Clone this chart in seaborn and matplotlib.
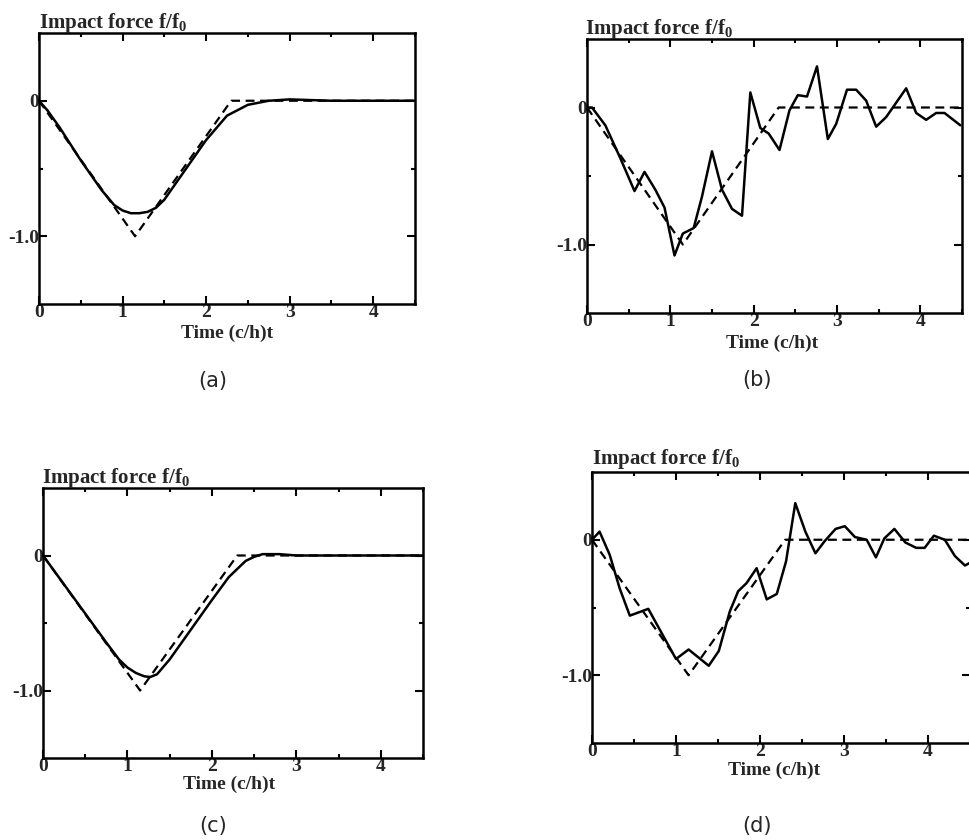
import matplotlib
matplotlib.use("Agg")
import matplotlib.pyplot as plt
from matplotlib.ticker import MultipleLocator, FixedLocator
import seaborn as sns

# --- data ---
# dashed reference pulse (triangle), same in every panel
tri_t = [0, 1.15, 2.3, 4.5]
tri_f = [0, -1.0, 0, 0]

# (a) smooth reconstruction
a_t = [0, 0.1, 0.25, 0.5, 0.75, 0.9, 1.0, 1.1, 1.2, 1.3, 1.4, 1.5, 1.75, 2.0,
       2.25, 2.5, 2.75, 3.0, 3.5, 4.0, 4.5]
a_f = [0, -0.07, -0.2, -0.44, -0.66, -0.77, -0.81, -0.83, -0.83, -0.82, -0.79,
       -0.73, -0.51, -0.29, -0.11, -0.03, 0.0, 0.01, 0.0, 0.0, 0.0]

# (b) noisy reconstruction
b_t = [0, 0.06, 0.22, 0.4, 0.57, 0.69, 0.82, 0.93, 1.05, 1.15, 1.28, 1.38, 1.5,
       1.62, 1.74, 1.86, 1.96, 2.08, 2.18, 2.31, 2.43, 2.53, 2.64, 2.76, 2.89,
       2.99, 3.12, 3.23, 3.35, 3.47, 3.59, 3.83, 3.95, 4.07, 4.19, 4.29, 4.48]
b_f = [0, 0, -0.13, -0.37, -0.61, -0.47, -0.6, -0.73, -1.08, -0.92, -0.88,
       -0.65, -0.32, -0.6, -0.74, -0.79, 0.11, -0.15, -0.19, -0.31, -0.02, 0.09,
       0.08, 0.3, -0.23, -0.12, 0.13, 0.13, 0.05, -0.14, -0.07, 0.14, -0.04,
       -0.09, -0.04, -0.04, -0.13]

# (c) smooth reconstruction
c_t = [0, 0.25, 0.5, 0.75, 0.9, 1.0, 1.1, 1.2, 1.27, 1.35, 1.5, 1.75, 2.0, 2.2,
       2.4, 2.5, 2.6, 2.8, 3.0, 4.5]
c_f = [0, -0.215, -0.43, -0.645, -0.77, -0.83, -0.87, -0.895, -0.9, -0.88,
       -0.77, -0.55, -0.33, -0.16, -0.04, -0.01, 0.01, 0.01, 0.0, 0.0]

# (d) noisy reconstruction
d_t = [0, 0.09, 0.21, 0.33, 0.45, 0.67, 1.0, 1.15, 1.39, 1.51, 1.64, 1.74, 1.84,
       1.96, 2.08, 2.2, 2.31, 2.42, 2.54, 2.66, 2.77, 2.9, 3.01, 3.13, 3.27,
       3.38, 3.48, 3.6, 3.73, 3.86, 3.96, 4.07, 4.2, 4.32, 4.44, 4.5]
d_f = [0, 0.06, -0.11, -0.36, -0.56, -0.51, -0.88, -0.81, -0.93, -0.82, -0.53,
       -0.38, -0.32, -0.21, -0.44, -0.4, -0.16, 0.27, 0.06, -0.1, -0.01, 0.08,
       0.1, 0.02, 0.0, -0.13, 0.01, 0.08, -0.02, -0.06, -0.06, 0.03, 0.0, -0.12,
       -0.19, -0.17]

panels = [("(a)", a_t, a_f), ("(b)", b_t, b_f), ("(c)", c_t, c_f), ("(d)", d_t, d_f)]

sns.set_style("ticks")
plt.rcParams["font.family"] = ["Liberation Serif", "DejaVu Serif"]
plt.rcParams["font.weight"] = "bold"
plt.rcParams["mathtext.fontset"] = "custom"
plt.rcParams["mathtext.rm"] = "Liberation Serif:bold"
plt.rcParams["mathtext.it"] = "Liberation Serif:bold"

W, H = 969, 840
fig = plt.figure(figsize=(W / 100, H / 100), dpi=100)

# axes boxes in pixels: left, top, right, bottom
boxes = [(39, 33, 415, 304), (587, 39, 962, 313),
         (43, 488, 423, 758), (592, 472, 970, 743)]
title_pos = [(39, 28), (585, 34), (42, 483), (592, 464)]
xlab_pos = [(227, 333), (772, 343), (229, 784), (774, 770)]
cap_pos = [(213, 381), (757, 380), (213, 826), (757, 826)]
title = r"Impact force f/f$_0$"

for i, (cap, t, f) in enumerate(panels):
    l, tp, r, b = boxes[i]
    ax = fig.add_axes([l / W, 1 - b / H, (r - l) / W, (b - tp) / H])
    sns.lineplot(x=tri_t, y=tri_f, ax=ax, color="black", lw=1.6,
                 linestyle=(0, (4, 2.5)))
    sns.lineplot(x=t, y=f, ax=ax, color="black", lw=1.8)
    ax.set_xlim(0, 4.5)
    ax.set_ylim(-1.5, 0.5)
    ax.xaxis.set_major_locator(FixedLocator([0, 1, 2, 3, 4]))
    ax.xaxis.set_minor_locator(MultipleLocator(0.5))
    ax.yaxis.set_major_locator(FixedLocator([-1.0, 0]))
    ax.yaxis.set_minor_locator(FixedLocator([-0.5]))
    ax.set_xticklabels(["0", "1", "2", "3", "4"])
    ax.set_yticklabels(["-1.0", "0"])
    ax.tick_params(which="both", direction="in", top=True, right=True,
                   width=1.5, labelsize=14, color="black")
    ax.tick_params(which="major", length=6)
    ax.tick_params(which="minor", length=3)
    ax.tick_params(axis="x", pad=0)
    ax.tick_params(axis="y", pad=0)
    for s in ax.spines.values():
        s.set_linewidth(1.8)
        s.set_color("black")
    ax.set_xlabel("")
    ax.set_ylabel("")

    tx, ty = title_pos[i]
    fig.text(tx / W, 1 - ty / H, title, fontsize=15, fontweight="bold",
             ha="left", va="baseline")
    xx, xy = xlab_pos[i]
    fig.text(xx / W, 1 - xy / H, "Time (c/h)t", fontsize=14, fontweight="bold",
             ha="center", va="center")
    cx, cy = cap_pos[i]
    fig.text(cx / W, 1 - cy / H, cap, fontsize=15, fontweight="normal",
             family=["Liberation Sans Narrow", "DejaVu Sans"],
             ha="center", va="center")

fig.savefig("out.png", dpi=100, facecolor="white")
